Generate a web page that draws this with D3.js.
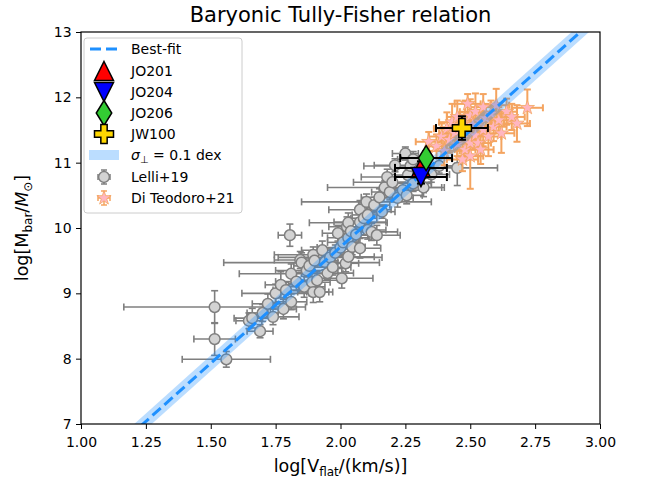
<!DOCTYPE html>
<html>
<head>
<meta charset="utf-8">
<script src="https://cdn.jsdelivr.net/npm/d3@7"></script>
<style>
  html, body { margin: 0; padding: 0; background: #fff; }
  svg { display: block; font-family: "DejaVu Sans", sans-serif; }
</style>
</head>
<body>
<svg id="chart" width="646" height="482"></svg>
<script>
// Baryonic Tully-Fisher relation: log V_flat vs log M_bar

const xTicks = [1.00, 1.25, 1.50, 1.75, 2.00, 2.25, 2.50, 2.75, 3.00];
const yTicks = [7, 8, 9, 10, 11, 12, 13];

// Best-fit relation: logM = slope * logV + intercept
const fitSlope = 3.56;
const fitIntercept = 2.59;
const bandHalfWidth = 0.12;

// Lelli+19: [logV, logM, errV, errM]
const lelli = [
  [1.515, 8.79, 0.35, 0.25], [1.515, 8.30, 0.08, 0.25], [1.56, 7.99, 0.17, 0.12],
  [1.647, 8.58, 0.05, 0.12], [1.66, 8.62, 0.07, 0.15], [1.69, 8.42, 0.05, 0.10],
  [1.70, 8.70, 0.06, 0.13], [1.72, 8.84, 0.06, 0.15], [1.74, 8.64, 0.10, 0.12],
  [1.75, 9.00, 0.13, 0.14], [1.77, 9.13, 0.06, 0.20], [1.78, 8.76, 0.05, 0.15],
  [1.79, 9.05, 0.05, 0.12], [1.805, 9.89, 0.045, 0.17], [1.81, 9.30, 0.20, 0.15],
  [1.81, 8.87, 0.06, 0.12], [1.83, 9.18, 0.08, 0.14], [1.845, 9.51, 0.10, 0.13],
  [1.85, 9.47, 0.30, 0.15], [1.86, 9.10, 0.08, 0.16], [1.87, 9.35, 0.12, 0.10],
  [1.88, 9.42, 0.06, 0.12], [1.89, 9.17, 0.07, 0.20], [1.895, 9.02, 0.06, 0.16],
  [1.895, 9.59, 0.15, 0.12], [1.90, 9.50, 0.07, 0.10], [1.91, 9.20, 0.09, 0.13],
  [1.92, 9.02, 0.05, 0.15], [1.93, 9.66, 0.08, 0.14], [1.94, 9.48, 0.05, 0.12],
  [1.95, 9.31, 0.10, 0.10], [1.96, 9.55, 0.20, 0.13], [1.97, 9.40, 0.07, 0.12],
  [1.98, 9.62, 0.07, 0.12], [1.99, 9.92, 0.06, 0.12], [2.00, 9.70, 0.09, 0.12],
  [2.005, 9.23, 0.12, 0.15], [2.01, 9.78, 0.06, 0.10], [2.02, 9.46, 0.05, 0.13],
  [2.025, 10.02, 0.07, 0.15], [2.03, 9.85, 0.08, 0.12], [2.03, 10.08, 0.15, 0.15],
  [2.03, 9.56, 0.10, 0.12], [2.04, 9.95, 0.05, 0.12], [2.045, 9.71, 0.05, 0.12],
  [2.06, 9.90, 0.06, 0.10], [2.075, 10.28, 0.12, 0.14], [2.075, 10.09, 0.10, 0.12],
  [2.075, 9.69, 0.08, 0.15], [2.09, 10.15, 0.05, 0.10], [2.10, 10.40, 0.25, 0.12],
  [2.105, 10.20, 0.06, 0.12], [2.105, 9.97, 0.07, 0.14], [2.12, 9.94, 0.10, 0.13],
  [2.13, 10.35, 0.06, 0.12], [2.14, 9.89, 0.09, 0.15], [2.15, 10.47, 0.07, 0.13],
  [2.16, 10.25, 0.05, 0.10], [2.17, 10.62, 0.22, 0.10], [2.18, 10.78, 0.10, 0.12],
  [2.19, 10.55, 0.07, 0.12], [2.20, 10.70, 0.15, 0.12], [2.21, 10.96, 0.08, 0.10],
  [2.22, 10.46, 0.06, 0.14], [2.24, 10.58, 0.09, 0.12], [2.25, 11.14, 0.05, 0.10],
  [2.255, 10.50, 0.06, 0.13], [2.26, 10.81, 0.05, 0.12], [2.27, 10.95, 0.18, 0.10],
  [2.28, 10.68, 0.07, 0.12], [2.28, 11.05, 0.06, 0.12], [2.30, 10.88, 0.05, 0.10],
  [2.32, 10.62, 0.08, 0.14], [2.35, 10.82, 0.07, 0.12], [2.38, 10.95, 0.06, 0.11],
  [2.45, 10.92, 0.155, 0.27]
];

// Di Teodoro+21: [logV, logM, errV, errM]
const diTeodoro = [
  [2.34, 11.32, 0.05, 0.15], [2.37, 11.25, 0.04, 0.18], [2.39, 11.40, 0.05, 0.20],
  [2.40, 11.18, 0.06, 0.22], [2.41, 11.52, 0.05, 0.25], [2.42, 11.35, 0.04, 0.20],
  [2.43, 11.62, 0.05, 0.28], [2.44, 11.45, 0.06, 0.20], [2.45, 11.28, 0.05, 0.18],
  [2.45, 11.70, 0.04, 0.25], [2.46, 11.55, 0.05, 0.22], [2.47, 11.38, 0.06, 0.20],
  [2.47, 11.05, 0.06, 0.18], [2.48, 11.65, 0.05, 0.30], [2.48, 11.20, 0.04, 0.15],
  [2.49, 11.48, 0.06, 0.20], [2.49, 11.90, 0.05, 0.15], [2.50, 11.72, 0.05, 0.25],
  [2.50, 11.30, 0.05, 0.18], [2.50, 11.10, 0.05, 0.50], [2.51, 11.58, 0.04, 0.22],
  [2.52, 11.42, 0.05, 0.20], [2.52, 11.78, 0.06, 0.28], [2.53, 11.30, 0.05, 0.20],
  [2.54, 11.62, 0.04, 0.18], [2.54, 11.20, 0.05, 0.22], [2.55, 11.50, 0.05, 0.25],
  [2.55, 11.85, 0.05, 0.20], [2.56, 11.68, 0.06, 0.22], [2.57, 11.40, 0.05, 0.30],
  [2.58, 11.75, 0.04, 0.20], [2.59, 11.55, 0.05, 0.22], [2.60, 11.88, 0.05, 0.25],
  [2.61, 11.65, 0.06, 0.20], [2.62, 11.45, 0.05, 0.30], [2.64, 11.78, 0.04, 0.20],
  [2.66, 11.70, 0.05, 0.20], [2.68, 11.60, 0.05, 0.28], [2.72, 11.84, 0.06, 0.28]
];

// Individual galaxies: name, logV, logM, errV, errM
const galaxyNames = ["JO201", "JO204", "JO206", "JW100"];
const galaxyLogV = [2.31, 2.31, 2.33, 2.468];
const galaxyLogM = [10.92, 10.78, 11.07, 11.53];
const galaxyErrV = [0.10, 0.10, 0.10, 0.10];
const galaxyErrM = [0.10, 0.10, 0.10, 0.18];
const galaxyFill = ["#ff0000", "#0000ff", "#33cc33", "#ffd700"];
const galaxyShape = ["triUp", "triDown", "thinDiamond", "plus"];

const legendLabels = ["Best-fit", "JO201", "JO204", "JO206", "JW100", "σ⊥ = 0.1 dex", "Lelli+19", "Di Teodoro+21"];

const svg = d3.select("#chart");
const margin = { left: 81, right: 600, top: 32, bottom: 424 };
const x = d3.scaleLinear().domain([1, 3]).range([margin.left, margin.right]);
const y = d3.scaleLinear().domain([7, 13]).range([margin.bottom, margin.top]);

svg.append("defs").append("clipPath").attr("id", "plotClip")
  .append("rect").attr("x", margin.left).attr("y", margin.top)
  .attr("width", margin.right - margin.left).attr("height", margin.bottom - margin.top);

const plot = svg.append("g").attr("clip-path", "url(#plotClip)");

// marker path generators (centered at 0,0)
function markerPath(shape, s) {
  const h = s / 2;
  switch (shape) {
    case "triUp": return `M0,${-h}L${h},${h}L${-h},${h}Z`;
    case "triDown": return `M0,${h}L${h},${-h}L${-h},${-h}Z`;
    case "thinDiamond": { const w = h * 0.62; return `M0,${-h}L${w},0L0,${h}L${-w},0Z`; }
    case "plus": {
      const a = h, b = h / 3;
      return `M${-b},${-a}H${b}V${-b}H${a}V${b}H${b}V${a}H${-b}V${b}H${-a}V${-b}H${-b}Z`;
    }
    case "star": {
      const pts = [];
      for (let i = 0; i < 10; i++) {
        const r = i % 2 === 0 ? h : h * 0.382;
        const ang = -Math.PI / 2 + i * Math.PI / 5;
        pts.push([r * Math.cos(ang), r * Math.sin(ang)]);
      }
      return "M" + pts.map(p => p.join(",")).join("L") + "Z";
    }
  }
}

function drawErrorBars(g, data, color, width, cap) {
  const eb = g.append("g").attr("stroke", color).attr("stroke-width", width).attr("fill", "none");
  data.forEach(d => {
    const cx = x(d[0]), cy = y(d[1]);
    const x0 = x(d[0] - d[2]), x1 = x(d[0] + d[2]);
    const y0 = y(d[1] - d[3]), y1 = y(d[1] + d[3]);
    eb.append("line").attr("x1", x0).attr("x2", x1).attr("y1", cy).attr("y2", cy);
    eb.append("line").attr("x1", cx).attr("x2", cx).attr("y1", y0).attr("y2", y1);
    eb.append("line").attr("x1", x0).attr("x2", x0).attr("y1", cy - cap).attr("y2", cy + cap);
    eb.append("line").attr("x1", x1).attr("x2", x1).attr("y1", cy - cap).attr("y2", cy + cap);
    eb.append("line").attr("x1", cx - cap).attr("x2", cx + cap).attr("y1", y0).attr("y2", y0);
    eb.append("line").attr("x1", cx - cap).attr("x2", cx + cap).attr("y1", y1).attr("y2", y1);
  });
}

// Lelli+19
drawErrorBars(plot, lelli, "#7f7f7f", 1.6, 3.5);
plot.append("g").selectAll("circle").data(lelli).join("circle")
  .attr("cx", d => x(d[0])).attr("cy", d => y(d[1])).attr("r", 5.4)
  .attr("fill", "#d3d3d3").attr("stroke", "#7f7f7f").attr("stroke-width", 1.5);

// Di Teodoro+21
const orange = "#f4a460";
drawErrorBars(plot, diTeodoro, orange, 2, 3.5);
plot.append("g").selectAll("path").data(diTeodoro).join("path")
  .attr("transform", d => `translate(${x(d[0])},${y(d[1])})`)
  .attr("d", markerPath("star", 15))
  .attr("fill", "#ffb6c1").attr("stroke", orange).attr("stroke-width", 0.8);

// scatter band around the fit
const bandX = [1, 3];
const bandArea = d3.area()
  .x(d => x(d))
  .y0(d => y(fitSlope * d + fitIntercept - bandHalfWidth))
  .y1(d => y(fitSlope * d + fitIntercept + bandHalfWidth));
plot.append("path").datum(bandX).attr("d", bandArea)
  .attr("fill", "#1e90ff").attr("fill-opacity", 0.3);

// best-fit line
const fitLine = d3.line().x(d => x(d)).y(d => y(fitSlope * d + fitIntercept));
plot.append("path").datum(bandX).attr("d", fitLine)
  .attr("fill", "none").attr("stroke", "#1e90ff").attr("stroke-width", 3)
  .attr("stroke-dasharray", "11,5");

// individual galaxies
const galaxies = galaxyNames.map((n, i) => [galaxyLogV[i], galaxyLogM[i], galaxyErrV[i], galaxyErrM[i]]);
const markerSize = { triUp: 19, triDown: 19, thinDiamond: 25, plus: 19 };
galaxies.forEach((d, i) => {
  const g = plot.append("g");
  drawErrorBars(g, [d], "#000", 2, 4);
  g.append("path").attr("transform", `translate(${x(d[0])},${y(d[1])})`)
    .attr("d", markerPath(galaxyShape[i], markerSize[galaxyShape[i]]))
    .attr("fill", galaxyFill[i]).attr("stroke", "#000").attr("stroke-width", 1.5)
    .attr("stroke-linejoin", "miter");
});

// axes
const xAxis = d3.axisBottom(x).tickValues(xTicks).tickFormat(d3.format(".2f")).tickSizeOuter(0).tickSize(5);
const yAxis = d3.axisLeft(y).tickValues(yTicks).tickFormat(d3.format("d")).tickSizeOuter(0).tickSize(5);
const gx = svg.append("g").attr("transform", `translate(0,${margin.bottom})`).call(xAxis);
const gy = svg.append("g").attr("transform", `translate(${margin.left},0)`).call(yAxis);
[gx, gy].forEach(g => {
  g.select(".domain").remove();
  g.selectAll(".tick line").attr("stroke", "#000").attr("stroke-width", 1);
  g.selectAll(".tick text").attr("font-family", "DejaVu Sans").attr("font-size", 14).attr("fill", "#000");
});
gx.selectAll(".tick text").attr("dy", "1.05em");
gy.selectAll(".tick text").attr("dx", "-0.1em");

svg.append("rect").attr("x", margin.left).attr("y", margin.top)
  .attr("width", margin.right - margin.left).attr("height", margin.bottom - margin.top)
  .attr("fill", "none").attr("stroke", "#000").attr("stroke-width", 1.2);

// title and axis labels
svg.append("text").attr("x", (margin.left + margin.right) / 2).attr("y", 22)
  .attr("text-anchor", "middle").attr("font-size", 21).text("Baryonic Tully-Fisher relation");

const xl = svg.append("text").attr("x", (margin.left + margin.right) / 2).attr("y", 472)
  .attr("text-anchor", "middle").attr("font-size", 17.5);
xl.append("tspan").text("log[V");
xl.append("tspan").attr("font-size", 12).attr("dy", 4).text("flat");
xl.append("tspan").attr("dy", -4).text("/(km/s)]");

const yl = svg.append("text").attr("transform", `translate(28,${(margin.top + margin.bottom) / 2}) rotate(-90)`)
  .attr("text-anchor", "middle").attr("font-size", 17.5);
yl.append("tspan").text("log[M");
yl.append("tspan").attr("font-size", 12).attr("dy", 4).text("bar");
yl.append("tspan").attr("dy", -4).text("/");
yl.append("tspan").attr("font-style", "italic").text("M");
yl.append("tspan").attr("font-size", 12).attr("dy", 4).text("⊙");
yl.append("tspan").attr("dy", -4).text("]");

// legend
const lg = svg.append("g");
lg.append("rect").attr("x", 84).attr("y", 38).attr("width", 158).attr("height", 175)
  .attr("rx", 3).attr("fill", "#fff").attr("fill-opacity", 0.8).attr("stroke", "#cccccc");
const rowY = [49, 71, 92, 113, 134, 155, 177, 198];
const hx = 104;
legendLabels.forEach((lab, i) => {
  const t = lg.append("text").attr("x", 131).attr("y", rowY[i]).attr("dy", "0.36em").attr("font-size", 14);
  if (i === 5) {
    t.append("tspan").attr("font-style", "italic").text("σ");
    t.append("tspan").attr("font-size", 10).attr("dy", 3).text("⊥");
    t.append("tspan").attr("dy", -3).text(" = 0.1 dex");
  } else {
    t.text(lab);
  }
});
lg.append("line").attr("x1", 90).attr("x2", 119).attr("y1", rowY[0]).attr("y2", rowY[0])
  .attr("stroke", "#1e90ff").attr("stroke-width", 3).attr("stroke-dasharray", "11,5");
[0, 1, 2, 3].forEach(i => {
  lg.append("path").attr("transform", `translate(${hx},${rowY[i + 1]})`)
    .attr("d", markerPath(galaxyShape[i], markerSize[galaxyShape[i]]))
    .attr("fill", galaxyFill[i]).attr("stroke", "#000").attr("stroke-width", 1.5);
});
lg.append("rect").attr("x", 89).attr("y", rowY[5] - 5).attr("width", 30).attr("height", 10)
  .attr("fill", "#1e90ff").attr("fill-opacity", 0.3);
// errorbar handles
function legendErr(cy, color) {
  const e = lg.append("g").attr("stroke", color).attr("stroke-width", 1.5);
  e.append("line").attr("x1", hx - 6).attr("x2", hx + 6).attr("y1", cy).attr("y2", cy);
  e.append("line").attr("x1", hx).attr("x2", hx).attr("y1", cy - 7).attr("y2", cy + 7);
  e.append("line").attr("x1", hx - 6).attr("x2", hx - 6).attr("y1", cy - 3).attr("y2", cy + 3);
  e.append("line").attr("x1", hx + 6).attr("x2", hx + 6).attr("y1", cy - 3).attr("y2", cy + 3);
  e.append("line").attr("x1", hx - 3).attr("x2", hx + 3).attr("y1", cy - 7).attr("y2", cy - 7);
  e.append("line").attr("x1", hx - 3).attr("x2", hx + 3).attr("y1", cy + 7).attr("y2", cy + 7);
}
legendErr(rowY[6], "#7f7f7f");
lg.append("circle").attr("cx", hx).attr("cy", rowY[6]).attr("r", 5.4)
  .attr("fill", "#d3d3d3").attr("stroke", "#7f7f7f").attr("stroke-width", 1.5);
legendErr(rowY[7], orange);
lg.append("path").attr("transform", `translate(${hx},${rowY[7]})`).attr("d", markerPath("star", 15))
  .attr("fill", "#ffb6c1").attr("stroke", orange).attr("stroke-width", 0.8);
</script>
</body>
</html>
